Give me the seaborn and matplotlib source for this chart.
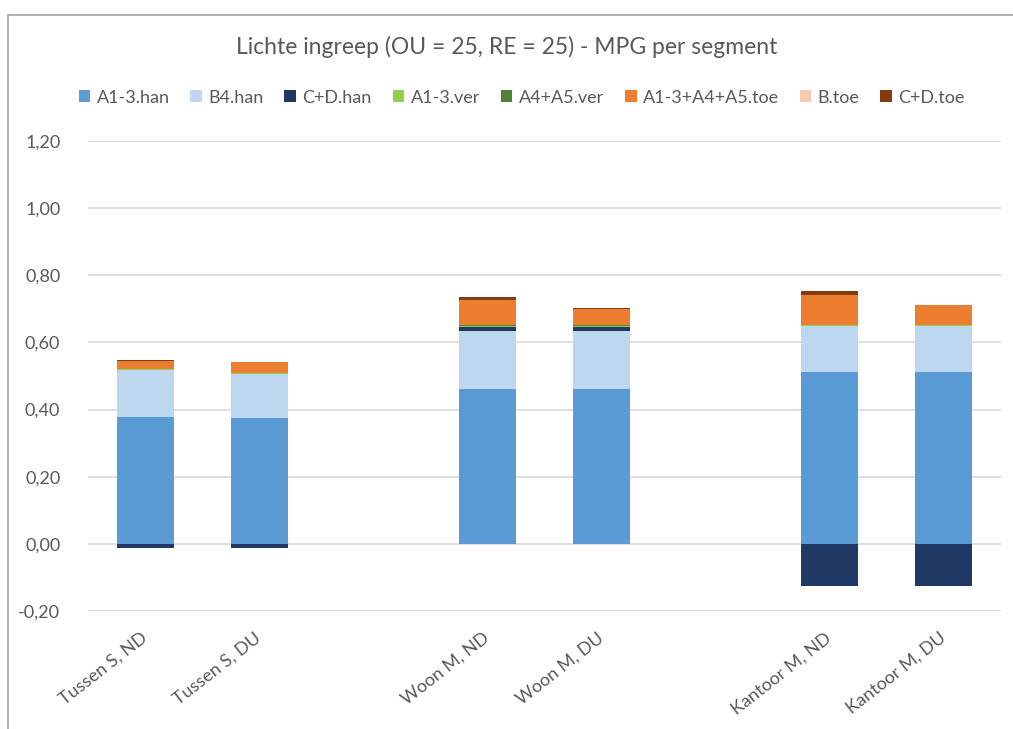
import matplotlib
matplotlib.use("Agg")
import matplotlib.pyplot as plt
from matplotlib.lines import Line2D
from matplotlib.patches import Patch
import numpy as np
import pandas as pd
import seaborn as sns

# Categories (blank slots separate the building types)
categories = ["Tussen S, ND", "Tussen S, DU", "Woon M, ND", "Woon M, DU",
              "Kantoor M, ND", "Kantoor M, DU"]
order = ["Tussen S, ND", "Tussen S, DU", " ", "Woon M, ND", "Woon M, DU", "  ",
         "Kantoor M, ND", "Kantoor M, DU"]

# MPG contribution per component
a13_han = [0.379, 0.374, 0.462, 0.462, 0.513, 0.513]
b4_han = [0.139, 0.132, 0.171, 0.171, 0.135, 0.135]
cd_han = [-0.012, -0.012, 0.013, 0.013, -0.125, -0.125]
a13_ver = [0.004, 0.003, 0.004, 0.003, 0.004, 0.004]
a45_ver = [0.000, 0.000, 0.003, 0.003, 0.001, 0.001]
a1345_toe = [0.024, 0.032, 0.074, 0.048, 0.089, 0.057]
b_toe = [0.000, 0.000, 0.000, 0.000, 0.000, 0.000]
cd_toe = [0.003, 0.002, 0.008, 0.002, 0.010, 0.002]

series_names = ["A1-3.han", "B4.han", "C+D.han", "A1-3.ver", "A4+A5.ver",
                "A1-3+A4+A5.toe", "B.toe", "C+D.toe"]
series_values = [a13_han, b4_han, cd_han, a13_ver, a45_ver, a1345_toe, b_toe, cd_toe]
colors = ["#5B9BD5", "#BDD7EE", "#1F3864", "#92D050", "#548235",
          "#ED7D31", "#F8CBAD", "#843C0C"]

# Y axis ticks (Dutch decimal comma)
y_ticks = [-0.2, 0.0, 0.2, 0.4, 0.6, 0.8, 1.0, 1.2]
y_tick_labels = ["-0,20", "0,00", "0,20", "0,40", "0,60", "0,80", "1,00", "1,20"]

sns.set_theme(style="white")
plt.rcParams["font.family"] = ["Lato", "DejaVu Sans"]
text_color = "#595959"

fig = plt.figure(figsize=(10.13, 7.29), dpi=100)
ax = fig.add_axes([0.087, 0.1619, 0.901, 0.6447])

pos_base = np.zeros(len(categories))
neg_base = np.zeros(len(categories))
for name, vals, col in zip(series_names, series_values, colors):
    vals = np.asarray(vals, dtype=float)
    bottom = np.where(vals >= 0, pos_base, neg_base)
    df = pd.DataFrame({"cat": categories, "val": vals})
    sns.barplot(data=df, x="cat", y="val", order=order, color=col,
                width=0.5, bottom=bottom, errorbar=None, saturation=1,
                linewidth=0, ax=ax)
    pos_base = pos_base + np.where(vals >= 0, vals, 0)
    neg_base = neg_base + np.where(vals < 0, vals, 0)

ax.set_ylim(-0.2, 1.2)
ax.set_xlim(-0.5, len(order) - 0.5)
ax.set_yticks(y_ticks)
ax.set_yticklabels(y_tick_labels, fontsize=13, color=text_color)
ax.yaxis.grid(True, color="#D9D9D9", linewidth=1.2)
ax.set_axisbelow(True)
for s in ax.spines.values():
    s.set_visible(False)
ax.tick_params(axis="y", length=0, pad=20)
ax.tick_params(axis="x", length=0, pad=18)
ax.set_xlabel("")
ax.set_ylabel("")
ax.set_xticks(range(len(order)))
ax.set_xticklabels([o.strip() for o in order], rotation=38, ha="right",
                   va="center", rotation_mode="anchor", fontsize=13,
                   color=text_color)

fig.text(0.5, 0.935, "Lichte ingreep (OU = 25, RE = 25) - MPG per segment",
         ha="center", va="center", fontsize=16.5, color=text_color)

handles = [Patch(facecolor=c, edgecolor="none") for c in colors]
fig.legend(handles, series_names, loc="center", bbox_to_anchor=(0.515, 0.866),
           ncol=8, frameon=False, fontsize=13, labelcolor=text_color,
           handlelength=0.65, handleheight=0.65, handletextpad=0.35,
           columnspacing=1.15)

# Chart frame
fig.add_artist(Line2D([8 / 1013, 8 / 1013], [0, 1 - 15 / 729],
                      transform=fig.transFigure, color="#A6A6A6", linewidth=1.2))
fig.add_artist(Line2D([8 / 1013, 1], [1 - 15 / 729, 1 - 15 / 729],
                      transform=fig.transFigure, color="#A6A6A6", linewidth=1.2))

fig.savefig("out.png", dpi=100, facecolor="white")
